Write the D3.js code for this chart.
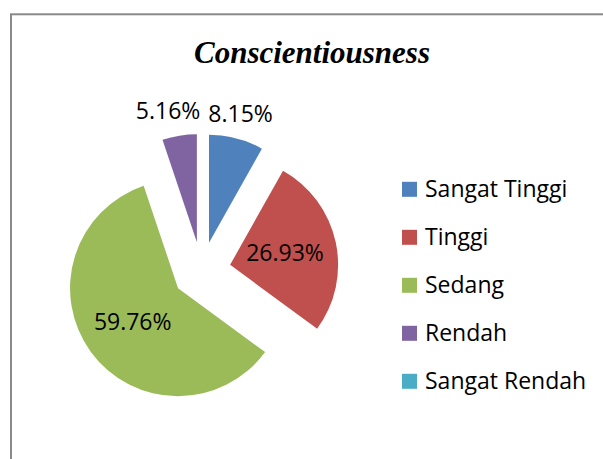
<!DOCTYPE html>
<html>
<head>
<meta charset="utf-8">
<script src="https://cdn.jsdelivr.net/npm/d3@7"></script>
<style>
  body { margin: 0; background: white; }
  svg { display: block; }
</style>
</head>
<body>
<svg id="chart" width="603" height="459"></svg>
<script>
const title = "Conscientiousness";
const categories = ["Sangat Tinggi", "Tinggi", "Sedang", "Rendah", "Sangat Rendah"];
const values = [8.15, 26.93, 59.76, 5.16, 0];
const colors = ["#4F81BD", "#C0504D", "#9BBB59", "#8064A2", "#4BACC6"];
// which labels sit outside the slice
const outsideLabels = ["Sangat Tinggi", "Rendah"];

const svg = d3.select("#chart");

// Chart frame (runs past the right and bottom edge of the picture)
svg.append("rect")
  .attr("x", 11)
  .attr("y", 14.3)
  .attr("width", 620)
  .attr("height", 480)
  .attr("fill", "white")
  .attr("stroke", "#8a8a8a")
  .attr("stroke-width", 2);

// Title
svg.append("text")
  .attr("x", 312)
  .attr("y", 63)
  .attr("text-anchor", "middle")
  .attr("font-family", "'Liberation Serif', 'Times New Roman', serif")
  .attr("font-weight", "bold")
  .attr("font-style", "italic")
  .attr("font-size", 31)
  .text(title);

// Pie
const cx = 201.6;
const cy = 271;
const radius = 108;
const explode = 0.27 * radius;

const data = categories.map((c, i) => ({ name: c, value: values[i], color: colors[i] }));
const pie = d3.pie().sort(null).value((d) => d.value);
const arcs = pie(data).filter((d) => d.value > 0);

const arc = d3.arc().innerRadius(0).outerRadius(radius);
const labelArc = d3.arc().innerRadius(0).outerRadius(radius * 1.04);

const mid = (d) => (d.startAngle + d.endAngle) / 2;
const offset = (d, dist) => [Math.sin(mid(d)) * dist, -Math.cos(mid(d)) * dist];

const pieG = svg.append("g").attr("transform", `translate(${cx},${cy})`);

const slice = pieG.selectAll("g.slice")
  .data(arcs)
  .join("g")
  .attr("class", "slice")
  .attr("transform", (d) => `translate(${offset(d, explode)})`);

slice.append("path")
  .attr("d", arc)
  .attr("fill", (d) => d.data.color);

// Labels
const labelFont = "'Open Sans', 'Noto Sans', sans-serif";
const fmt = (v) => v.toFixed(2) + "%";

const labels = slice.append("text")
  .attr("font-family", labelFont)
  .attr("font-size", 23)
  .attr("fill", "black")
  .attr("text-anchor", "middle")
  .each(function (d) {
    const t = d3.select(this);
    if (outsideLabels.includes(d.data.name)) {
      const [x, y] = offset(d, radius * 1.155);
      t.attr("x", x).attr("y", y);
    } else {
      const [x, y] = labelArc.centroid(d);
      t.attr("x", x).attr("y", y).attr("dy", "0.36em");
    }
  })
  .text((d) => fmt(d.data.value));

// Push outside labels apart when they overlap (left one moves left)
const outside = labels.filter((d) => outsideLabels.includes(d.data.name)).nodes()
  .map((n) => {
    const d = d3.select(n).datum();
    const b = n.getBBox();
    const [ox, oy] = offset(d, explode);
    return { node: n, left: b.x + ox, right: b.x + b.width + ox, top: b.y + oy, bottom: b.y + b.height + oy };
  })
  .sort((a, b) => a.left - b.left);

for (let i = 0; i < outside.length - 1; i++) {
  const a = outside[i];
  const b = outside[i + 1];
  const gap = 8;
  const overlapY = a.bottom > b.top && b.bottom > a.top;
  if (overlapY && a.right + gap > b.left) {
    const shift = a.right + gap - b.left;
    const sel = d3.select(a.node);
    sel.attr("x", +sel.attr("x") - shift);
    a.left -= shift;
    a.right -= shift;
  }
}

// Legend
const legendY = d3.scalePoint()
  .domain(categories)
  .range([189.3, 381.3]);

const legend = svg.append("g")
  .selectAll("g")
  .data(data)
  .join("g")
  .attr("transform", (d) => `translate(402,${legendY(d.name)})`);

legend.append("rect")
  .attr("x", 0)
  .attr("y", -7.5)
  .attr("width", 15)
  .attr("height", 15)
  .attr("fill", (d) => d.color);

legend.append("text")
  .attr("x", 23)
  .attr("y", 7.5)
  .attr("font-family", labelFont)
  .attr("font-size", 23)
  .attr("fill", "black")
  .text((d) => d.name);
</script>
</body>
</html>
